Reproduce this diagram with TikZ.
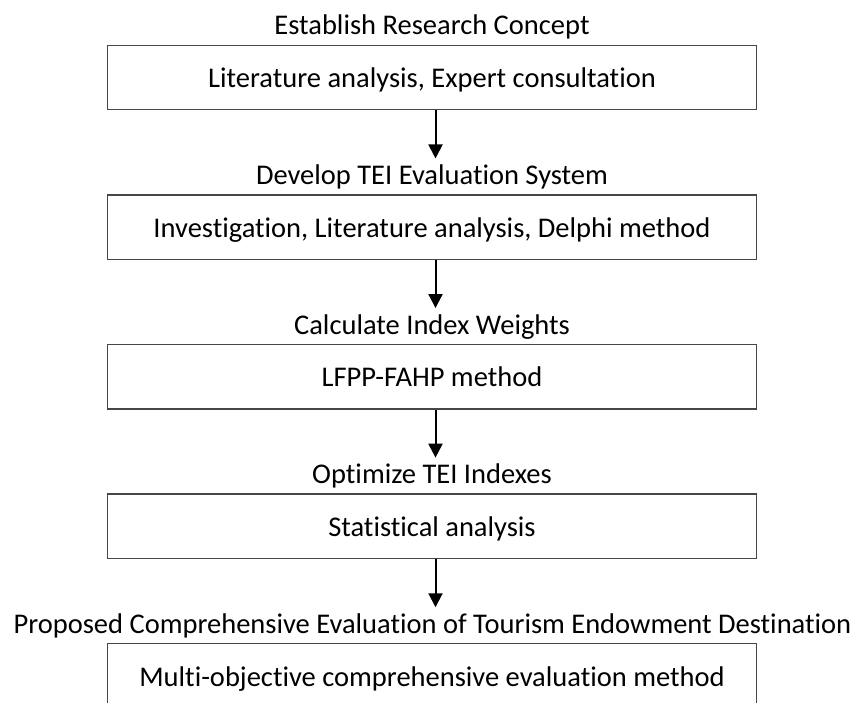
\documentclass[tikz,border=0pt]{standalone}
\usepackage{fontspec}
\setmainfont[Ligatures=NoCommon]{Carlito}
\usetikzlibrary{arrows.meta}
\begin{document}
\begin{tikzpicture}[x=1pt,y=-1pt,
 box/.style={draw=black!72, line width=1.4pt, minimum width=649pt, minimum height=64.5pt, inner sep=0pt, text height=26.5pt, text depth=6pt, font=\fontsize{28.5}{32}\selectfont},
 title/.style={font=\fontsize{28.5}{32}\selectfont, inner sep=0pt, anchor=base},
 arr/.style={-{Triangle[length=14pt,width=14pt]}, line width=2pt}]
\useasboundingbox (0,0) rectangle (857,702);
\clip (0,0) rectangle (857,702);
\fill[white] (0,0) rectangle (857,702);
\node[title] (t1) at (432,34.8) {Establish Research Concept};
\node[box] (b1) at (432,77.5) {Literature analysis, Expert consultation};
\node[title] (t2) at (432,184.4) {Develop TEI Evaluation System};
\node[box] (b2) at (432,227.1) {Investigation, Literature analysis, Delphi method};
\node[title] (t3) at (432,334) {Calculate Index Weights};
\node[box] (b3) at (432,376.7) {LFPP-FAHP method};
\node[title] (t4) at (432,483.6) {Optimize TEI Indexes};
\node[box] (b4) at (432,526.3) {Statistical analysis};
\node[title] (t5) at (432.5,633.2) {Proposed Comprehensive Evaluation of Tourism Endowment Destination};
\node[box] (b5) at (432,675.9) {Multi-objective comprehensive evaluation method};
\foreach \a/\b in {b1/t2,b2/t3,b3/t4,b4/t5}
  \draw[arr] ([xshift=3.5pt]\a.south) -- ++(0,48);
\end{tikzpicture}
\end{document}
